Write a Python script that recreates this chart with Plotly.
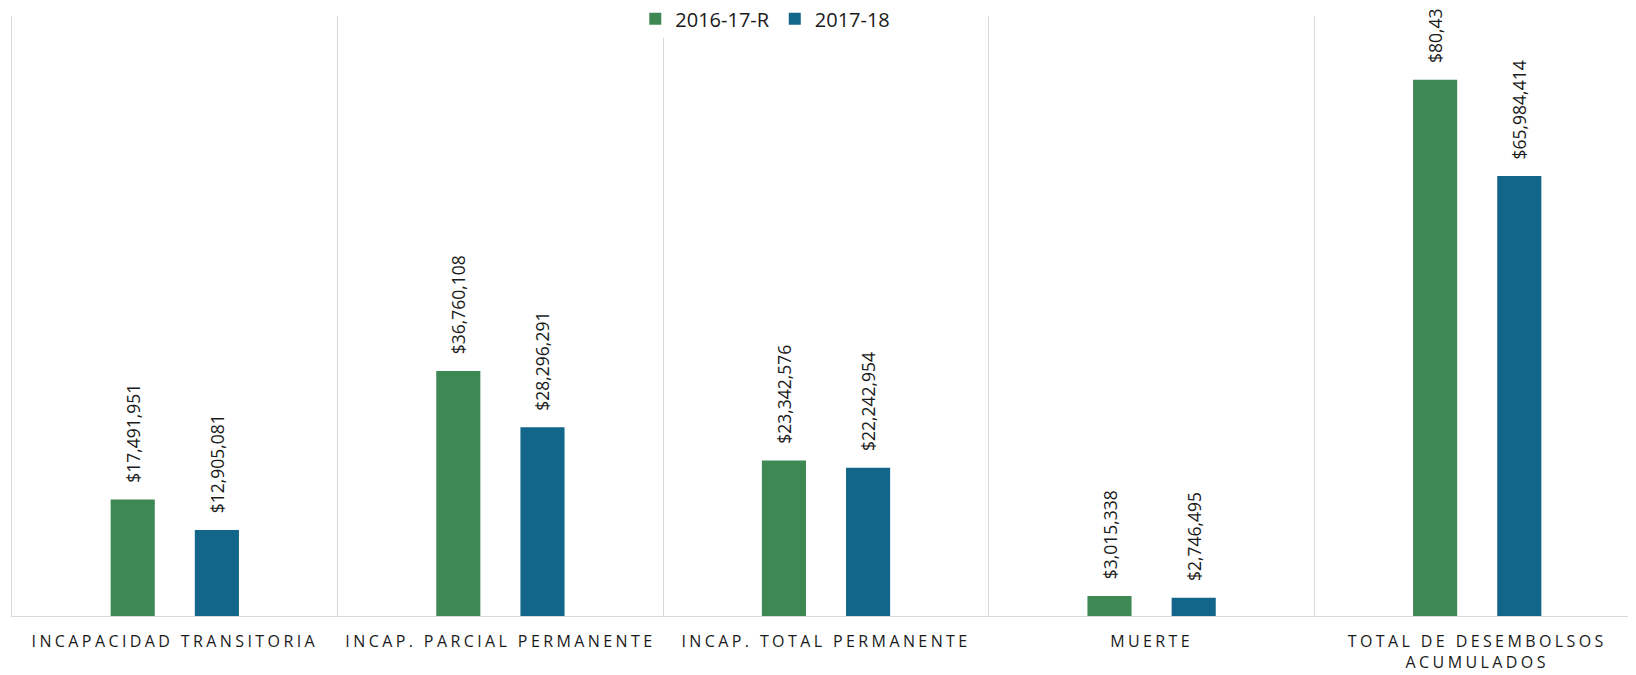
import plotly.graph_objects as go

categories = [
    "INCAPACIDAD TRANSITORIA",
    "INCAP. PARCIAL PERMANENTE",
    "INCAP. TOTAL PERMANENTE",
    "MUERTE",
    "TOTAL DE DESEMBOLSOS ACUMULADOS",
]
tick_lines = [
    ["INCAPACIDAD TRANSITORIA"],
    ["INCAP. PARCIAL PERMANENTE"],
    ["INCAP. TOTAL PERMANENTE"],
    ["MUERTE"],
    ["TOTAL DE DESEMBOLSOS", "ACUMULADOS"],
]
series_names = ["2016-17-R", "2017-18"]
values_2016_17_R = [17491951, 36760108, 23342576, 3015338, 80438214]
values_2017_18 = [12905081, 28296291, 22242954, 2746495, 65984414]
colors = ["#3E8853", "#116689"]

PAD = "\u00a0\u00a0\u00a0"
SPACED = '<span style="letter-spacing:3.4px">{}</span>'
tick_text = ["<br>".join(SPACED.format(s) for s in lines) for lines in tick_lines]

fig = go.Figure()
for name, vals, col in zip(series_names, [values_2016_17_R, values_2017_18], colors):
    fig.add_trace(go.Bar(
        x=categories, y=vals, name=name, marker_color=col,
        marker_line_width=0,
        texttemplate=PAD + "$%{y:,}", textposition="outside", textangle=-90,
        textfont=dict(family="Open Sans", size=17.5, color="#1a1a1a"),
        cliponaxis=False, constraintext="none",
    ))

fig.update_layout(
    width=1636, height=675,
    margin=dict(l=4, r=4, t=8, b=67, autoexpand=False),
    plot_bgcolor="white", paper_bgcolor="white",
    barmode="group", bargap=0.483, bargroupgap=0.476,
    showlegend=True,
    legend=dict(orientation="h", x=0.4627, xanchor="center",
                yref="container", y=1 - 10.7 / 675, yanchor="middle",
                bgcolor="white", font=dict(family="Open Sans", size=20, color="#1a1a1a"),
                itemwidth=30, traceorder="normal", tracegroupgap=0),
    xaxis=dict(type="category", tickson="boundaries", showgrid=True, gridcolor="#d9d9d9",
               gridwidth=1.3, showline=True, linecolor="#d9d9d9", linewidth=1.3,
               ticks="", ticklabelstandoff=11, automargin=False,
               tickmode="array", tickvals=categories, ticktext=tick_text,
               tickfont=dict(family="Open Sans", size=16, color="#1a1a1a")),
    yaxis=dict(range=[0, 90000000], showticklabels=False, showgrid=False, zeroline=False,
               showline=True, linecolor="#d9d9d9", linewidth=1.3, ticks="", automargin=False),
)

fig.write_html("out.html")
